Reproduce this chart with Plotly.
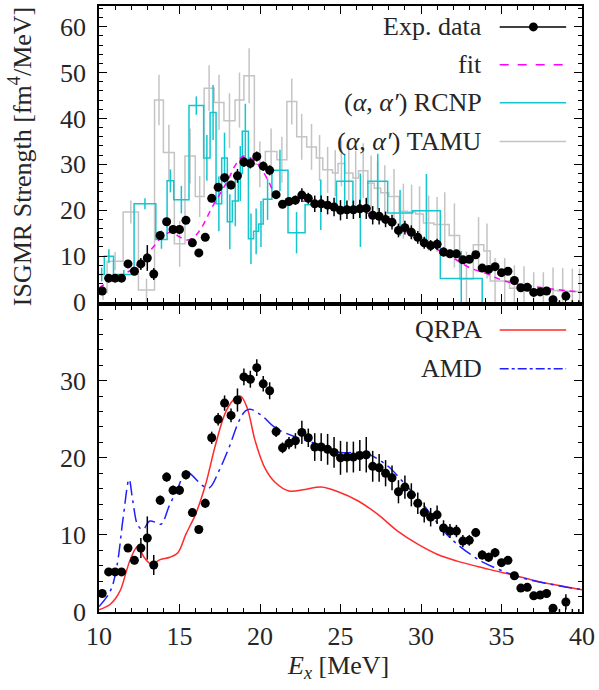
import plotly.graph_objects as go

# ---------------- data ----------------
# Experimental data (same in both panels)
exp_x = [10.2 + 0.4 * i for i in range(75)]
exp_y = [2.4, 5.2, 5.2, 5.2, 8.3, 6.7, 8.3, 9.6, 6.1, 14.5,
         17.5, 15.8, 15.8, 17.8, 12.9, 10.7, 14.1, 22.6, 25.0, 27.1,
         25.5, 27.5, 30.5, 30.2, 31.7, 29.6, 28.7, 23.4, 21.3, 21.9,
         22.2, 23.3, 22.6, 21.4, 21.4, 21.1, 20.7, 20.0, 20.1, 20.1,
         20.3, 20.4, 18.9, 18.7, 18.0, 17.4, 15.6, 16.2, 15.2, 14.1,
         12.9, 12.3, 12.6, 10.9, 10.5, 10.5, 9.2, 9.3, 10.3, 7.4,
         7.1, 7.7, 6.4, 6.7, 4.7, 3.1, 3.2, 2.1, 2.2, 2.4,
         0.5, -0.1, 1.3, -0.1, -0.1]
exp_err = [0.4, 0.4, 0.4, 0.4, 0.5, 0.5, 1.3, 2.8, 1.3, 0.6,
           0.6, 0.6, 0.6, 0.6, 0.5, 0.5, 0.6, 0.8, 0.8, 1.0,
           0.9, 1.5, 1.1, 1.1, 1.1, 1.0, 1.1, 0.7, 0.7, 0.8,
           1.0, 1.5, 1.2, 1.8, 1.8, 2.0, 2.0, 2.2, 2.0, 2.0,
           2.0, 2.3, 2.0, 1.8, 1.7, 1.6, 1.5, 1.5, 1.5, 1.4,
           1.3, 1.2, 1.2, 1.0, 0.9, 0.8, 0.8, 0.7, 0.6, 0.6,
           0.6, 0.6, 0.5, 0.5, 0.5, 0.5, 0.5, 0.5, 0.5, 0.5,
           0.5, 0.5, 1.0, 0.5, 0.5]

# Fit (top panel)
fit_x = [10, 10.5, 11, 11.5, 12, 12.5, 13, 13.5, 14, 14.5, 15, 15.5, 16, 16.5,
         17, 17.5, 18, 18.5, 19, 19.5, 20, 20.5, 21, 21.5, 22, 23, 24, 25, 26,
         27, 28, 29, 30, 31, 32, 33, 34, 35, 36, 37, 38, 39, 40]
fit_y = [3.0, 4.3, 5.2, 6.0, 7.0, 8.5, 10.5, 12.5, 14.5, 15.2, 14.2, 13.5, 14.5, 17.0,
         20.5, 23.5, 26.5, 30.0, 31.8, 31.2, 29.5, 26.5, 23.0, 21.5, 21.7, 22.0, 21.3, 20.5, 20.0,
         19.0, 17.5, 15.5, 13.5, 11.5, 9.6, 7.5, 6.3, 4.8, 3.9, 3.4, 2.9, 2.5, 2.2]

# (alpha, alpha') RCNP histogram
rcnp_edges = [10.0, 10.33, 10.9, 12.18, 13.53, 14.23, 14.64, 15.59, 16.5, 16.9,
              17.27, 17.62, 17.97, 18.28, 18.65, 18.9, 19.28, 19.6, 19.92, 20.2,
              20.74, 21.74, 22.8, 24.75, 25.77, 26.7, 27.93, 29.47, 31.2, 33.8]
rcnp_vals = [6.0, 10.0, 6.0, 21.4, 13.6, 26.4, 22.3, 42.8, 31.4, 41.3,
             21.4, 31.4, 17.5, 22.0, 28.0, 37.2, 13.8, 15.4, 17.0, 22.4,
             28.7, 15.1, 21.2, 26.3, 20.0, 26.3, 19.4, 19.9, 5.1]
rcnp_err = [1.5, 1.5, 1.0, 1.2, 2.0, 2.5, 3.0, 2.0, 5.0, 6.0,
            6.0, 5.5, 6.0, 5.5, 6.0, 6.0, 5.5, 5.0, 5.0, 4.5,
            4.5, 4.5, 5.5, 6.0, 8.0, 6.0, 5.0, 8.0, 6.0]

# (alpha, alpha') TAMU histogram
tamu_edges = [10.0, 10.5, 11.5, 12.45, 13.45, 14.0, 14.68, 15.34, 15.98, 16.53,
              17.15, 17.76, 18.45, 19.0, 19.65, 20.33, 21.05, 21.67, 22.28, 22.9,
              23.5, 23.9, 24.5, 24.85, 25.26, 25.77, 26.12, 26.7, 27.1, 27.5,
              28.0, 28.65, 29.16, 29.67, 30.15, 30.8, 31.2, 31.75, 32.4, 33.25,
              33.9, 34.3, 34.9, 35.5, 36.1, 36.7, 37.3, 37.9, 38.5, 39.1,
              39.7, 40.0]
tamu_vals = [2.0, 8.9, 19.6, 2.6, 44.0, 32.6, 12.7, 31.8, 23.0, 46.6,
             43.5, 39.5, 44.0, 49.3, 30.0, 32.8, 31.0, 43.7, 36.0, 33.8,
             31.4, 28.8, 28.1, 30.2, 28.1, 27.0, 28.6, 25.9, 24.8, 23.8,
             23.0, 19.8, 19.6, 19.2, 17.2, 16.9, 16.9, 14.5, 5.0, 12.5,
             11.1, 4.6, 4.6, 3.0, 2.8, 2.5, 2.5, 2.5, 2.4, 2.3,
             2.3]
tamu_err = [1.5, 2.0, 2.5, 2.5, 5.5, 6.0, 5.0, 6.0, 4.5, 5.0,
            6.0, 6.0, 6.0, 6.0, 5.0, 5.0, 5.0, 5.0, 5.0, 5.0,
            5.0, 5.0, 5.0, 5.0, 6.0, 6.0, 6.0, 6.0, 6.0, 6.0,
            6.0, 6.0, 6.0, 6.0, 6.0, 6.0, 7.0, 7.0, 6.0, 6.0,
            6.0, 5.0, 5.0, 5.0, 5.0, 4.0, 4.0, 5.0, 5.0, 5.0,
            5.0]

# QRPA (bottom panel)
qrpa_x = [10.0, 10.7, 11.3, 11.7, 12.0, 12.4, 12.8, 13.25, 13.8, 14.4, 14.9, 15.4,
          16.0, 16.6, 17.25, 17.9, 18.5, 18.8, 19.2, 19.7, 20.3, 20.95, 21.8, 22.8,
          23.8, 24.85, 26.1, 27.3, 28.55, 29.8, 31.0, 32.25, 33.5, 34.7, 35.9, 37.2,
          38.4, 40.0]
qrpa_y = [0.3, 1.0, 2.7, 5.3, 7.1, 8.5, 7.1, 6.2, 6.8, 7.1, 7.7, 10.1,
          12.7, 16.4, 21.8, 26.1, 27.8, 28.0, 26.5, 22.2, 18.7, 16.8, 15.7, 15.9,
          16.2, 15.6, 14.4, 12.7, 10.5, 8.8, 7.5, 6.6, 5.9, 5.3, 4.7, 4.0,
          3.5, 2.9]

# AMD (bottom panel)
amd_x = [10.0, 10.7, 11.1, 11.5, 11.87, 12.1, 12.42, 12.73, 13.15, 13.55, 13.86, 14.37,
         14.9, 15.4, 15.8, 16.43, 16.85, 17.45, 18.07, 18.7, 19.1, 19.4, 20.1, 20.95,
         22.2, 23.4, 25.0, 26.1, 26.7, 27.9, 29.0, 29.8, 30.6, 31.4, 32.25, 33.06,
         33.9, 35.1, 36.3, 37.6, 38.8, 40.0]
amd_y = [0.7, 2.7, 5.8, 12.2, 17.2, 14.4, 11.2, 10.7, 11.8, 11.6, 11.4, 13.8,
         16.1, 18.2, 17.7, 16.4, 16.1, 18.3, 21.3, 24.8, 26.1, 26.3, 25.5, 23.9,
         22.7, 21.9, 20.7, 20.7, 20.5, 19.0, 16.6, 14.8, 12.7, 10.5, 8.8, 7.5,
         6.4, 5.3, 4.4, 3.8, 3.3, 2.9]

x_ticks = [10, 15, 20, 25, 30, 35, 40]
top_yticks = [0, 10, 20, 30, 40, 50, 60]
bot_yticks = [0, 10, 20, 30]

# ---------------- styles ----------------
FONT = "Liberation Serif, Times New Roman, Times, serif"
FS = 26
TXT = "#262626"
CYAN = "#12c6cf"
GRAY = "#c4c4c4"
MAGENTA = "#ff00ff"
RED = "#ff2a2a"
BLUE = "#1f1fff"


def hist_xy(edges, vals, close_to_zero=False):
    xs = list(edges[:-1]) + [edges[-1]]
    ys = list(vals) + [0 if close_to_zero else vals[-1]]
    return xs, ys


def centers(edges):
    return [(a + b) / 2 for a, b in zip(edges[:-1], edges[1:])]


fig = go.Figure()

# TAMU
tx, ty = hist_xy(tamu_edges, tamu_vals)
fig.add_trace(go.Scatter(x=tx, y=ty, mode="lines", line=dict(color=GRAY, width=1.5, shape="hv"),
                         xaxis="x", yaxis="y", showlegend=False))
fig.add_trace(go.Scatter(x=centers(tamu_edges), y=tamu_vals, mode="markers",
                         marker=dict(size=1, color="rgba(0,0,0,0)"),
                         error_y=dict(type="data", array=tamu_err, color=GRAY, thickness=1.5, width=0),
                         xaxis="x", yaxis="y", showlegend=False))
# RCNP
rx, ry = hist_xy(rcnp_edges, rcnp_vals, close_to_zero=True)
fig.add_trace(go.Scatter(x=rx, y=ry, mode="lines", line=dict(color=CYAN, width=1.5, shape="hv"),
                         xaxis="x", yaxis="y", showlegend=False))
fig.add_trace(go.Scatter(x=centers(rcnp_edges), y=rcnp_vals, mode="markers",
                         marker=dict(size=1, color="rgba(0,0,0,0)"),
                         error_y=dict(type="data", array=rcnp_err, color=CYAN, thickness=1.5, width=0),
                         xaxis="x", yaxis="y", showlegend=False))
# fit
fig.add_trace(go.Scatter(x=fit_x, y=fit_y, mode="lines",
                         line=dict(color=MAGENTA, width=1.5, dash="6px,5px", shape="spline"),
                         xaxis="x", yaxis="y", showlegend=False))
# exp data top
fig.add_trace(go.Scatter(x=exp_x, y=exp_y, mode="markers",
                         marker=dict(size=9, color="black"),
                         error_y=dict(type="data", array=exp_err, color="black", thickness=1.5, width=0),
                         cliponaxis=False, xaxis="x", yaxis="y", showlegend=False))

# bottom panel
fig.add_trace(go.Scatter(x=qrpa_x, y=qrpa_y, mode="lines",
                         line=dict(color=RED, width=1.5, shape="spline"),
                         xaxis="x2", yaxis="y2", showlegend=False))
fig.add_trace(go.Scatter(x=amd_x, y=amd_y, mode="lines",
                         line=dict(color=BLUE, width=1.5, dash="14px,5px,3px,5px", shape="spline"),
                         xaxis="x2", yaxis="y2", showlegend=False))
fig.add_trace(go.Scatter(x=exp_x, y=exp_y, mode="markers",
                         marker=dict(size=9, color="black"),
                         error_y=dict(type="data", array=exp_err, color="black", thickness=1.5, width=0),
                         cliponaxis=False, xaxis="x2", yaxis="y2", showlegend=False))

# ---------------- layout ----------------
axis_common = dict(showline=True, linecolor="black", linewidth=1.5, mirror="ticks",
                   ticks="inside", ticklen=8, tickwidth=1.2, tickcolor="black",
                   showgrid=False, zeroline=False,
                   tickfont=dict(family=FONT, size=FS, color=TXT))

TOP_D = [0.5115, 1.0]
BOT_D = [0.0, 0.505]

fig.update_layout(
    width=599, height=690,
    margin=dict(l=99, r=13, t=4, b=78),
    paper_bgcolor="white", plot_bgcolor="white",
    font=dict(family=FONT, size=FS, color=TXT),
    xaxis=dict(domain=[0, 1], anchor="y", range=[10, 40], tickvals=x_ticks, showticklabels=False,
               minor=dict(dtick=1, ticks="inside", ticklen=4, tickcolor="black", tickwidth=1), **axis_common),
    yaxis=dict(domain=TOP_D, anchor="x", range=[0, 64.5], tickvals=top_yticks, ticklabelstandoff=6,
               minor=dict(dtick=2, ticks="inside", ticklen=4, tickcolor="black", tickwidth=1), **axis_common),
    xaxis2=dict(domain=[0, 1], anchor="y2", range=[10, 40], tickvals=x_ticks,
                minor=dict(dtick=1, ticks="inside", ticklen=4, tickcolor="black", tickwidth=1), **axis_common),
    yaxis2=dict(domain=BOT_D, anchor="x2", range=[0, 39.7], tickvals=bot_yticks, ticklabelstandoff=6,
                minor=dict(dtick=2, ticks="inside", ticklen=4, tickcolor="black", tickwidth=1), **axis_common),
)

PLOT_W = 599 - 99 - 13
PLOT_H = 690 - 4 - 78


def py2paper(py):
    return (690 - 78 - py) / PLOT_H


def px2paper(px):
    return (px - 99) / PLOT_W


annotations = []
shapes = []
text_right = px2paper(487)
line_x0 = px2paper(503)
line_x1 = px2paper(570)
legend_items = [
    ("Exp. data", 25, dict(color="black", width=1.5), True),
    ("fit", 63, dict(color=MAGENTA, width=1.5, dash="dash"), False),
    ("(<i>α</i>, <i>α′</i>) RCNP", 101, dict(color=CYAN, width=1.5), False),
    ("(<i>α</i>, <i>α′</i>) TAMU", 140, dict(color=GRAY, width=1.5), False),
    ("QRPA", 329, dict(color=RED, width=1.5), False),
    ("AMD", 368, dict(color=BLUE, width=1.5, dash="dashdot"), False),
]
for label, py, ln, dot in legend_items:
    yp = py2paper(py)
    annotations.append(dict(text=label, x=text_right, y=yp, xref="paper", yref="paper",
                            xanchor="right", yanchor="middle", showarrow=False,
                            font=dict(family=FONT, size=FS, color=TXT)))
    shapes.append(dict(type="line", xref="paper", yref="paper", x0=line_x0, x1=line_x1, y0=yp, y1=yp,
                       line=ln))
    if dot:
        cx = px2paper(537)
        rx_ = 4.5 / PLOT_W
        ry_ = 4.5 / PLOT_H
        shapes.append(dict(type="circle", xref="paper", yref="paper", x0=cx - rx_, x1=cx + rx_,
                           y0=yp - ry_, y1=yp + ry_, fillcolor="black", line=dict(color="black", width=0)))

annotations.append(dict(text="ISGMR Strength [fm<sup>4</sup>/MeV]", textangle=-90,
                        x=px2paper(20), y=py2paper(155), xref="paper", yref="paper",
                        xanchor="center", yanchor="middle", showarrow=False,
                        font=dict(family=FONT, size=FS, color=TXT)))
annotations.append(dict(text="<i>E<sub>x</sub></i> [MeV]",
                        x=px2paper(340), y=py2paper(667), xref="paper", yref="paper",
                        xanchor="center", yanchor="middle", showarrow=False,
                        font=dict(family=FONT, size=FS, color=TXT)))

fig.update_layout(annotations=annotations, shapes=shapes)

fig.write_html("out.html")
